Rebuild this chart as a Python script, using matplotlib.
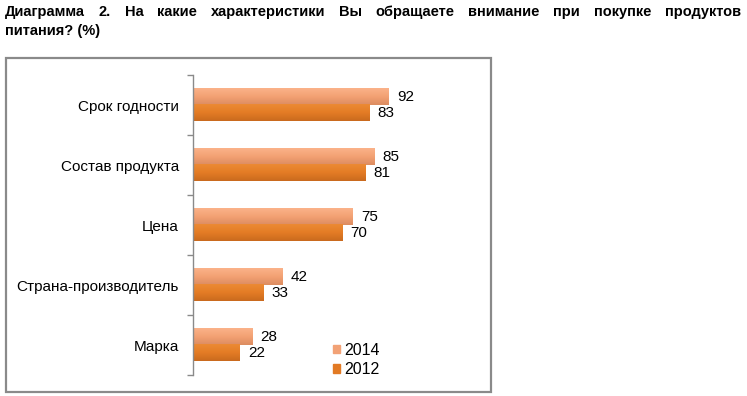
import matplotlib
matplotlib.use("Agg")
import matplotlib.pyplot as plt
import numpy as np
from matplotlib.patches import Rectangle, Patch
from matplotlib.colors import LinearSegmentedColormap

plt.rcParams['font.family'] = ['Liberation Sans', 'DejaVu Sans']

categories = ["Срок годности", "Состав продукта", "Цена", "Страна-производитель", "Марка"]
values_2014 = [92, 85, 75, 42, 28]
values_2012 = [83, 81, 70, 33, 22]
series_names = ["2014", "2012"]
title_line1 = "Диаграмма 2. На какие характеристики Вы обращаете внимание при покупке продуктов"
title_line2 = "питания? (%)"

W, H = 747, 396
fig = plt.figure(figsize=(W / 100, H / 100), dpi=100)

# Chart frame
fig.patches.append(Rectangle((6 / W, (H - 392) / H), (491 - 6) / W, (392 - 58) / H,
                             transform=fig.transFigure, fill=False,
                             edgecolor='#8a8a8a', linewidth=1.6))

ax = fig.add_axes([193 / W, (H - 375) / H, 213 / W, 300 / H])
n = len(categories)
y = np.arange(n)
bh = 0.27
c2014 = '#F2A276'
c2012 = '#E27A24'
cmap2014 = LinearSegmentedColormap.from_list('g14', ['#FBB28A', '#F3A173', '#DC8C60'])
cmap2012 = LinearSegmentedColormap.from_list('g12', ['#EC8A34', '#E47C25', '#C96A1E'])
grad = np.linspace(0, 1, 64).reshape(-1, 1)

def gradient_bars(ys, vals, cmap):
    bars = ax.barh(ys, vals, height=bh, color='none', edgecolor='none')
    for b in bars:
        x0, y0 = b.get_x(), b.get_y()
        w, h = b.get_width(), b.get_height()
        ax.imshow(grad, cmap=cmap, aspect='auto', extent=(x0, x0 + w, y0, y0 + h),
                  origin='lower', zorder=2, interpolation='bilinear')
    return bars

gradient_bars(y - bh / 2, values_2014, cmap2014)
gradient_bars(y + bh / 2, values_2012, cmap2012)

for yi, v in zip(y - bh / 2, values_2014):
    ax.annotate(str(v), (v, yi), xytext=(8, 0), textcoords='offset pixels',
                va='center', ha='left', fontsize=11)
for yi, v in zip(y + bh / 2, values_2012):
    ax.annotate(str(v), (v, yi), xytext=(8, 0), textcoords='offset pixels',
                va='center', ha='left', fontsize=11)

ax.set_xlim(0, 100)
ax.set_ylim(n - 0.5, -0.5)
ax.set_yticks(y)
ax.set_yticklabels(categories, fontsize=11)
ax.tick_params(axis='y', which='major', length=0, pad=10)
ax.set_yticks(np.arange(-0.5, n, 1), minor=True)
ax.tick_params(axis='y', which='minor', length=4, color='#8a8a8a', width=1)
ax.set_xticks([])
for s in ['top', 'right', 'bottom']:
    ax.spines[s].set_visible(False)
ax.spines['left'].set_color('#8a8a8a')
ax.spines['left'].set_linewidth(1)
ax.patch.set_alpha(0)

handles = [Patch(color=c2014), Patch(color=c2012)]
fig.legend(handles, series_names, loc='center left',
           bbox_to_anchor=(325 / W, (H - 360) / H), frameon=False,
           fontsize=11.5, handlelength=0.45, handleheight=0.45, handletextpad=0.25,
           labelspacing=0.3, borderpad=0)

# Justified title
fig.canvas.draw()
renderer = fig.canvas.get_renderer()
words = title_line1.split(" ")
texts = []
for w in words:
    t = fig.text(0, 1 - 12 / H, w, fontsize=10.5, fontweight='bold', va='center', ha='left')
    texts.append(t)
widths = [t.get_window_extent(renderer).width for t in texts]
left, right = 5, 741
gap = (right - left - sum(widths)) / (len(words) - 1)
xpos = left
for t, wd in zip(texts, widths):
    t.set_x(xpos / W)
    xpos += wd + gap
fig.text(left / W, 1 - 31 / H, title_line2, fontsize=10.5, fontweight='bold', va='center', ha='left')

fig.savefig("out.png", dpi=100)
